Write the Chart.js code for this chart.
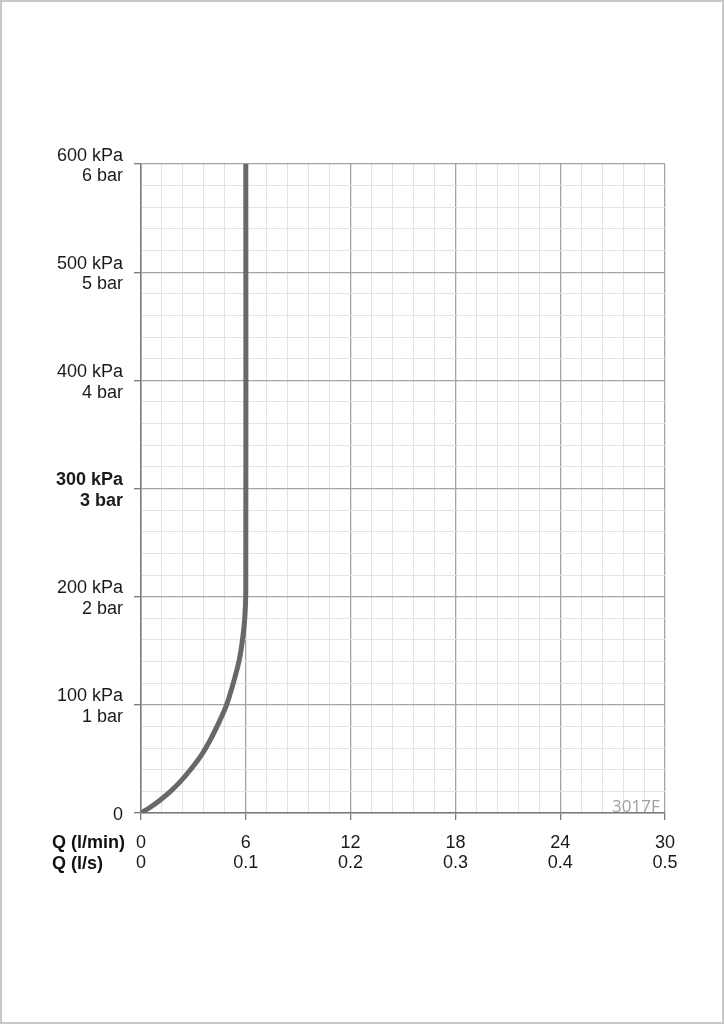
<!DOCTYPE html>
<html>
<head>
<meta charset="utf-8">
<script src="https://cdn.jsdelivr.net/npm/chart.js@4"></script>
<style>
  html, body { margin: 0; padding: 0; background: #fff; }
  #page { position: relative; width: 724px; height: 1024px; overflow: hidden; }
  #frame { position: absolute; left: 0; top: 0; width: 724px; height: 1024px; box-sizing: border-box; border: 2px solid #c8c8c8; pointer-events: none; }
  .rowLabel { position: absolute; font: bold 18px "Liberation Sans", Arial, sans-serif; color: #111; line-height: 20px; }
  #code { position: absolute; left: 612px; top: 794px; font: 17px "Open Sans", sans-serif; color: #a0a0a0; }
</style>
</head>
<body>
<div id="page">
  <canvas id="chart" width="724" height="1024"></canvas>
  <div class="rowLabel" style="left:52px; top:832px;">Q (l/min)</div>
  <div class="rowLabel" style="left:52px; top:853px;">Q (l/s)</div>
  <div id="code">3017F</div>
  <div id="frame"></div>
</div>
<script>
// flow curve (l/min vs kPa)
const flowLpm = [0, 0.55, 1.12, 1.69, 2.26, 2.83, 3.41, 3.98, 4.47, 4.9, 5.3, 5.62, 5.81, 5.94, 6.0, 6.0];
const pressureKpa = [0, 5.5, 12.3, 20, 29.2, 40, 52.3, 68, 84, 100, 121, 141, 160, 180, 205, 600];

// axis labels
const flowMajor = [0, 6, 12, 18, 24, 30];
const flowLsLabels = ['0', '0.1', '0.2', '0.3', '0.4', '0.5'];
const pressMajor = [0, 100, 200, 300, 400, 500, 600];
const pressKpaLabels = ['0', '100 kPa', '200 kPa', '300 kPa', '400 kPa', '500 kPa', '600 kPa'];
const pressBarLabels = ['', '1 bar', '2 bar', '3 bar', '4 bar', '5 bar', '6 bar'];

const isMajor = (v, step) => Math.abs(v / step - Math.round(v / step)) < 1e-6;
const majorColor = '#a4a4a4';
const minorColor = '#e3e3e3';
const labelFont = '"Liberation Sans", Arial, sans-serif';

const ctx = document.getElementById('chart').getContext('2d');
new Chart(ctx, {
    type: 'scatter',
    data: {
        datasets: [{
            data: flowLpm.map((q, i) => ({ x: q, y: pressureKpa[i] })),
            showLine: true,
            borderColor: '#686868',
            borderWidth: 5,
            pointRadius: 0,
            tension: 0.3,
            fill: false
        }]
    },
    options: {
        responsive: false,
        animation: false,
        layout: { padding: { left: 0, top: 164, right: 59, bottom: 0 } },
        plugins: { legend: { display: false }, tooltip: { enabled: false } },
        scales: {
            x: {
                type: 'linear',
                min: 0,
                max: 30,
                afterFit: scale => { scale.height = 211; },
                border: { color: '#7a7a7a', width: 1.5 },
                grid: {
                    color: c => c.tick && isMajor(c.tick.value, 6) ? majorColor : minorColor,
                    lineWidth: c => c.tick && isMajor(c.tick.value, 6) ? 1.3 : 1,
                    tickColor: c => c.tick && isMajor(c.tick.value, 6) ? '#7a7a7a' : 'rgba(0,0,0,0)',
                    tickLength: 7
                },
                ticks: {
                    stepSize: 1.2,
                    autoSkip: false,
                    maxRotation: 0,
                    padding: 13,
                    color: '#1a1a1a',
                    font: { family: labelFont, size: 18, lineHeight: 1.12 },
                    callback: v => {
                        const i = flowMajor.findIndex(m => Math.abs(m - v) < 1e-6);
                        return i < 0 ? '' : [String(flowMajor[i]), flowLsLabels[i]];
                    }
                }
            },
            y: {
                type: 'linear',
                min: 0,
                max: 600,
                afterFit: scale => { scale.width = 141; },
                border: { color: '#7a7a7a', width: 1.5 },
                grid: {
                    color: c => c.tick && isMajor(c.tick.value, 100) ? majorColor : minorColor,
                    lineWidth: c => c.tick && isMajor(c.tick.value, 100) ? 1.3 : 1,
                    tickColor: c => c.tick && isMajor(c.tick.value, 100) ? '#7a7a7a' : 'rgba(0,0,0,0)',
                    tickLength: 7
                },
                ticks: {
                    stepSize: 20,
                    autoSkip: false,
                    padding: 11,
                    labelOffset: 2,
                    color: '#1a1a1a',
                    font: c => ({
                        family: labelFont,
                        size: 18,
                        lineHeight: 1.15,
                        weight: c.tick && c.tick.value === 300 ? 'bold' : 'normal'
                    }),
                    callback: v => {
                        const i = pressMajor.findIndex(m => Math.abs(m - v) < 1e-6);
                        if (i < 0) return '';
                        return i === 0 ? pressKpaLabels[0] : [pressKpaLabels[i], pressBarLabels[i]];
                    }
                }
            }
        }
    }
});
</script>
</body>
</html>
